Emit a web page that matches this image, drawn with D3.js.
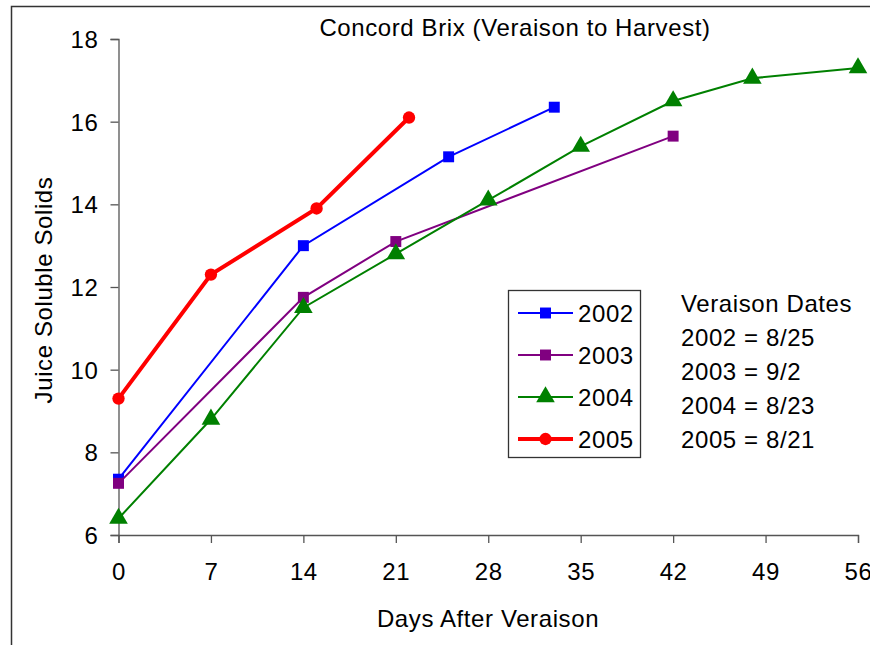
<!DOCTYPE html>
<html>
<head>
<meta charset="utf-8">
<script src="https://cdn.jsdelivr.net/npm/d3@7"></script>
<style>
  body { margin: 0; background: #fff; }
  svg text { font-family: "Liberation Sans", Arial, sans-serif; fill: #000; letter-spacing: 0.6px; }
</style>
</head>
<body>
<div id="chart"></div>
<script>
var width = 870,
  height = 645;

// data
var years = ["2002", "2003", "2004", "2005"];
var colors = ["#0000ff", "#800080", "#008000", "#ff0000"];
var days2002 = [0, 14, 25, 33];
var brix2002 = [7.35, 13.0, 15.15, 16.35];
var days2003 = [0, 14, 21, 42];
var brix2003 = [7.25, 11.75, 13.1, 15.65];
var days2004 = [0, 7, 14, 21, 28, 35, 42, 48, 56];
var brix2004 = [6.4, 8.8, 11.5, 12.8, 14.1, 15.4, 16.5, 17.05, 17.3];
var days2005 = [0, 7, 15, 22];
var brix2005 = [9.3, 12.3, 13.9, 16.1];
var xTicks = [0, 7, 14, 21, 28, 35, 42, 49, 56];
var yTicks = [6, 8, 10, 12, 14, 16, 18];
var veraisonLines = ["Veraison Dates", "2002 = 8/25", "2003 = 9/2", "2004 = 8/23", "2005 = 8/21"];

var allDays = [days2002, days2003, days2004, days2005];
var allBrix = [brix2002, brix2003, brix2004, brix2005];
var markers = [d3.symbolSquare, d3.symbolSquare, d3.symbolTriangle, d3.symbolCircle];
var markerSize = [120, 120, 150, 120];
var lineWidths = [2, 2, 2, 4];
var fontSize = 24;

var series = years.map(function (y, i) {
  return {
    year: y,
    color: colors[i],
    points: allDays[i].map(function (d, j) { return { day: d, brix: allBrix[i][j] }; })
  };
});

var svg = d3.select("#chart").append("svg")
  .attr("width", width)
  .attr("height", height);

// outer frame
svg.append("rect")
  .attr("x", 11.5).attr("y", 6.5)
  .attr("width", 900).attr("height", 700)
  .attr("fill", "none").attr("stroke", "#333").attr("stroke-width", 1.5);

var x = d3.scaleLinear().domain([0, 56]).range([118.5, 858]);
var y = d3.scaleLinear().domain([6, 18]).range([535, 39]);

// axes
var xAxis = svg.append("g")
  .attr("transform", "translate(0,535)")
  .call(d3.axisBottom(x).tickValues(xTicks).tickSizeOuter(0).tickSize(8).tickPadding(20));
var yAxis = svg.append("g")
  .attr("transform", "translate(118.5,0)")
  .call(d3.axisLeft(y).tickValues(yTicks).tickSizeOuter(0).tickSize(8).tickPadding(12));

[xAxis, yAxis].forEach(function (ax) {
  ax.select(".domain").attr("stroke", "#555").attr("stroke-width", 1.3);
  ax.selectAll(".tick line").attr("stroke", "#555").attr("stroke-width", 1.3);
  ax.selectAll(".tick text")
    .attr("font-size", fontSize)
    .attr("font-family", "Liberation Sans, Arial, sans-serif")
    .attr("fill", "#000");
});
yAxis.selectAll(".tick text").attr("dy", "0.36em");

// lines and markers
var line = d3.line()
  .x(function (d) { return x(d.day); })
  .y(function (d) { return y(d.brix); });

series.forEach(function (s, i) {
  svg.append("path")
    .datum(s.points)
    .attr("fill", "none")
    .attr("stroke", s.color)
    .attr("stroke-width", lineWidths[i])
    .attr("d", line);
  svg.selectAll(".m" + i)
    .data(s.points)
    .enter().append("path")
    .attr("class", "m" + i)
    .attr("transform", function (d) { return "translate(" + x(d.day) + "," + y(d.brix) + ")"; })
    .attr("d", d3.symbol().type(markers[i]).size(markerSize[i]))
    .attr("fill", s.color);
});

// title
svg.append("text")
  .attr("x", 515).attr("y", 27)
  .attr("dy", "0.36em")
  .attr("text-anchor", "middle")
  .attr("font-size", fontSize)
  .text("Concord Brix (Veraison to Harvest)");

// axis titles
svg.append("text")
  .attr("x", 488).attr("y", 618)
  .attr("dy", "0.36em")
  .attr("text-anchor", "middle")
  .attr("font-size", fontSize)
  .text("Days After Veraison");
svg.append("text")
  .attr("transform", "translate(43,290) rotate(-90)")
  .attr("dy", "0.36em")
  .attr("text-anchor", "middle")
  .attr("font-size", fontSize)
  .text("Juice Soluble Solids");

// legend
var legend = svg.append("g");
legend.append("rect")
  .attr("x", 508.5).attr("y", 290.5)
  .attr("width", 132).attr("height", 167)
  .attr("fill", "#fff").attr("stroke", "#333").attr("stroke-width", 1.3);
var legendY = d3.scalePoint().domain(years).range([313, 439]);
series.forEach(function (s, i) {
  var ly = legendY(s.year);
  legend.append("line")
    .attr("x1", 518).attr("x2", 573)
    .attr("y1", ly).attr("y2", ly)
    .attr("stroke", s.color).attr("stroke-width", lineWidths[i]);
  legend.append("path")
    .attr("transform", "translate(545.5," + ly + ")")
    .attr("d", d3.symbol().type(markers[i]).size(markerSize[i]))
    .attr("fill", s.color);
  legend.append("text")
    .attr("x", 578).attr("y", ly)
    .attr("dy", "0.36em")
    .attr("font-size", fontSize)
    .text(s.year);
});

// veraison dates note
svg.selectAll(".note")
  .data(veraisonLines)
  .enter().append("text")
  .attr("class", "note")
  .attr("x", 681)
  .attr("y", function (d, i) { return 303 + i * 34; })
  .attr("dy", "0.36em")
  .attr("font-size", fontSize)
  .text(function (d) { return d; });
</script>
</body>
</html>
